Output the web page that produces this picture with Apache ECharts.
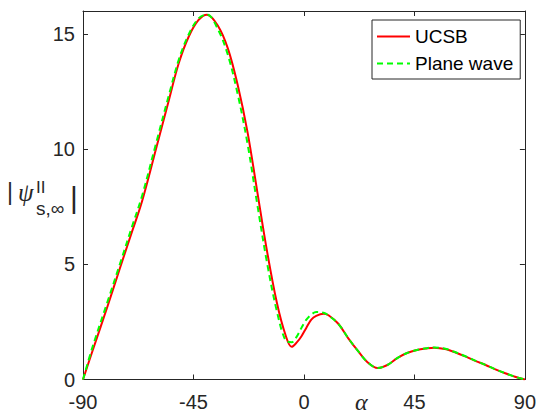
<!DOCTYPE html>
<html>
<head>
<meta charset="utf-8">
<script src="https://cdn.jsdelivr.net/npm/echarts@6/dist/echarts.min.js"></script>
<style>html,body{margin:0;padding:0;background:#fff}#c{width:539px;height:414px}</style>
</head>
<body>
<div id="c"></div>
<script>
const angles = [-90,-86,-80,-75,-70,-66,-60,-55,-51,-47,-43,-39.5,-35,-31,-27,-23,-19,-15,-11,-7.5,-5,-3,-1,1,3,5,8,10,14,18,22,26,30,34,38,42,46,50,53,58,62,66,70,74,78,82,86,90];
const ucsb = [0,1.28,3.18,4.82,6.43,7.72,10.12,12.14,13.73,14.87,15.60,15.84,15.35,14.38,12.80,10.75,8.15,5.55,3.32,1.93,1.42,1.60,1.88,2.25,2.60,2.76,2.85,2.79,2.42,1.80,1.24,0.74,0.50,0.63,0.93,1.15,1.28,1.35,1.38,1.31,1.16,0.99,0.80,0.63,0.44,0.27,0.12,0];
const planeWave = [0,1.45,3.38,5.00,6.65,7.95,10.35,12.35,13.88,14.97,15.67,15.85,15.20,14.10,12.40,10.25,7.60,5.05,2.95,1.70,1.62,1.85,2.25,2.60,2.82,2.93,2.90,2.78,2.42,1.80,1.24,0.74,0.50,0.63,0.93,1.15,1.28,1.36,1.39,1.32,1.17,1.00,0.81,0.63,0.44,0.27,0.12,0];
const xTicks = [-90,-45,0,45,90];
const yTicks = [0,5,10,15];
const seriesNames = ['UCSB','Plane wave'];

const axisColor = '#262626';
const font = 'Liberation Sans, Arial, Helvetica, sans-serif';
const serif = '"Liberation Serif", "DejaVu Serif", serif';
const chart = echarts.init(document.getElementById('c'), null, {renderer:'svg'});
const pairs = a => angles.map((x,i)=>[x,a[i]]);
const baseAxis = {
  axisLine:{show:true,onZero:false,lineStyle:{color:axisColor,width:1}},
  axisTick:{show:true,inside:true,length:5,lineStyle:{color:axisColor,width:1}},
  splitLine:{show:false}
};
chart.setOption({
  animation:false,
  grid:{left:83,right:10,top:11,bottom:34.5,containLabel:false},
  xAxis:[
    Object.assign({type:'value',min:-90,max:90,interval:45,position:'bottom',
      axisLabel:{show:true,margin:12,fontSize:20,color:axisColor,fontFamily:font,
        formatter:v=>xTicks.includes(v)?String(v):''}},baseAxis),
    Object.assign({type:'value',min:-90,max:90,interval:45,position:'top',axisLabel:{show:false}},baseAxis)
  ],
  yAxis:[
    Object.assign({type:'value',min:0,max:16,interval:5,position:'left',
      axisLabel:{show:true,margin:8,fontSize:20,color:axisColor,fontFamily:font,
        formatter:v=>yTicks.includes(v)?String(v):''}},baseAxis),
    Object.assign({type:'value',min:0,max:16,interval:5,position:'right',axisLabel:{show:false}},baseAxis)
  ],
  legend:{
    orient:'vertical',left:372,top:20,
    padding:[7,7,6,4],itemGap:8,itemWidth:33,itemHeight:14,
    backgroundColor:'#fff',borderColor:axisColor,borderWidth:1,
    itemStyle:{opacity:0},
    textStyle:{fontSize:19,color:'#000',fontFamily:font},
    data:seriesNames
  },
  series:[
    {name:seriesNames[0],type:'line',data:pairs(ucsb),smooth:0.35,symbol:'none',
      lineStyle:{color:'#ff0000',width:2},itemStyle:{color:'#ff0000'},z:2},
    {name:seriesNames[1],type:'line',data:pairs(planeWave),smooth:0.35,symbol:'none',
      lineStyle:{color:'#00ff00',width:2,type:[6,4]},itemStyle:{color:'#00ff00'},z:3}
  ],
  graphic:[
    {type:'text',left:355,top:390,style:{text:'α',font:'italic 24px '+serif,fill:axisColor}},
    {type:'text',x:7,y:180.5,style:{text:'|',font:'23px '+font,fill:axisColor}},
    {type:'text',x:18,y:180,style:{text:'ψ',font:'italic 25px '+serif,fill:axisColor}},
    {type:'text',x:36,y:179,style:{text:'II',font:'17px '+font,fill:axisColor}},
    {type:'text',x:36,y:199,style:{text:'s,∞',font:'19px '+font,fill:axisColor}},
    {type:'text',x:70,y:182,style:{text:'|',font:'30px '+font,fill:axisColor}}
  ]
});
</script>
</body>
</html>
